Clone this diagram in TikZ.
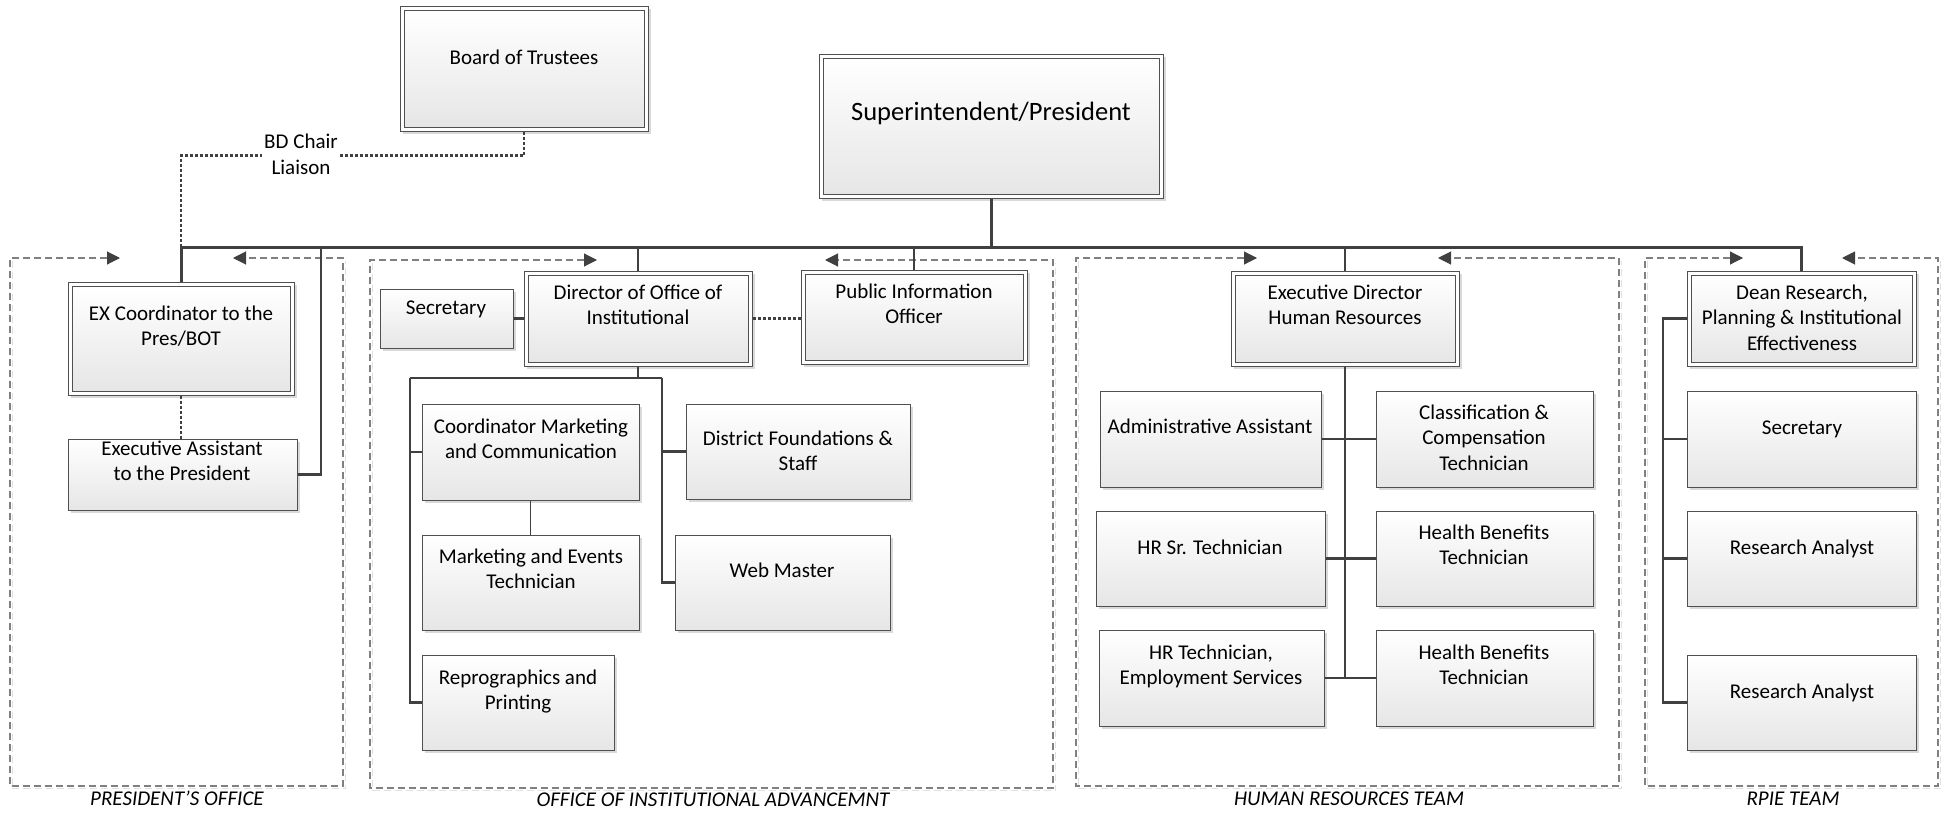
\documentclass[tikz,border=0pt]{standalone}
\usepackage{fontspec}
\setmainfont{Carlito}
\usetikzlibrary{arrows.meta,shadows,fit}
\definecolor{ln}{HTML}{404040}
\definecolor{bd}{HTML}{505050}
\definecolor{fr}{HTML}{808080}
\definecolor{gbot}{HTML}{E6E6E6}
\tikzset{
  box/.style={draw=bd, line width=1pt, top color=white, bottom color=gbot, inner sep=0pt,
    drop shadow={shadow xshift=3pt, shadow yshift=-3pt, opacity=0.15, fill=black}},
  mbox/.style={draw=bd, line width=1pt, fill=white, inner sep=0pt,
    drop shadow={shadow xshift=3pt, shadow yshift=-3pt, opacity=0.15, fill=black}},
  ibox/.style={draw=bd, line width=1pt, top color=white, bottom color=gbot},
  txt/.style={font=\fontsize{21}{25.6}\selectfont, align=center, inner sep=0pt,
    execute at begin node=\strut, execute at end node=\strut},
  bigtxt/.style={font=\fontsize{26.5}{32}\selectfont, align=center, inner sep=0pt,
    execute at begin node=\strut},
  bus/.style={draw=ln, line width=3pt},
  conn/.style={draw=ln, line width=2.6pt},
  thinconn/.style={draw=ln, line width=1.8pt},
  dotconn/.style={draw=ln, line width=2.2pt, dash pattern=on 3pt off 2pt},
  frame/.style={draw=fr, line width=1.1pt, dash pattern=on 7pt off 4pt,
    {Triangle[length=13pt,width=13pt,color=ln]}-{Triangle[length=13pt,width=13pt,color=ln]}},
  frsh/.style={draw=black!12, line width=1.1pt, dash pattern=on 7pt off 4pt},
  team/.style={font=\fontsize{21}{25.6}\selectfont\itshape, inner sep=0pt, execute at begin node=\strut},
}
\newcommand{\plainbox}[5]{\node[box, fit={(#2,#3)(#4,#5)}] (#1) {};}
\newcommand{\mgrbox}[5]{\node[mbox, fit={(#2,#3)(#4,#5)}] (#1) {};
  \draw[ibox] ([xshift=4.5pt,yshift=-4.5pt]#1.north west) rectangle ([xshift=-4.5pt,yshift=4.5pt]#1.south east);}
\begin{document}
\begin{tikzpicture}[x=1pt,y=-1pt]
\useasboundingbox[fill=white] (0,0) rectangle (1947,814);

% team frames (shadow lines first)
\begin{scope}[shift={(2.5,2.5)}]
\draw[frsh] (10,258) -- (10,786) -- (343,786) -- (343,258);
\draw[frsh] (370,260) -- (370,788) -- (1053,788) -- (1053,260);
\draw[frsh] (1076,258) -- (1076,786) -- (1619,786) -- (1619,258);
\draw[frsh] (1645,258) -- (1645,786) -- (1938,786) -- (1938,258);
\end{scope}
\draw[frame] (120,258) -- (10,258) -- (10,786) -- (343,786) -- (343,258) -- (233,258);
\draw[frame] (597,260) -- (370,260) -- (370,788) -- (1053,788) -- (1053,260) -- (825,260);
\draw[frame] (1257,258) -- (1076,258) -- (1076,786) -- (1619,786) -- (1619,258) -- (1438,258);
\draw[frame] (1743,258) -- (1645,258) -- (1645,786) -- (1938,786) -- (1938,258) -- (1842,258);

\node[team] (lPO) at (177,800) {PRESIDENT’S OFFICE};
\node[team] (lOIA) at (713,801) {OFFICE OF INSTITUTIONAL ADVANCEMNT};
\node[team] (lHR) at (1349,800) {HUMAN RESOURCES TEAM};
\node[team] (lRP) at (1793,800) {RPIE TEAM};

% boxes
\mgrbox{BoT}{400}{6}{648}{131}
\mgrbox{Supt}{819}{54}{1163}{198}
\mgrbox{EXC}{68}{282}{294}{395}
\plainbox{EA}{68}{439}{297}{510}
\plainbox{SecO}{380}{289}{513}{348}
\mgrbox{Dir}{524}{271}{752}{366}
\mgrbox{PIO}{801}{270}{1027}{364}
\plainbox{CM}{422}{404}{639}{500}
\plainbox{ME}{422}{535}{639}{630}
\plainbox{Repro}{422}{655}{614}{750}
\plainbox{DF}{686}{404}{910}{499}
\plainbox{WM}{675}{535}{890}{630}
\mgrbox{HRD}{1231}{271}{1459}{366}
\plainbox{Admin}{1100}{391}{1321}{487}
\plainbox{Class}{1376}{391}{1593}{487}
\plainbox{HRSr}{1096}{511}{1325}{606}
\plainbox{HBa}{1376}{511}{1593}{606}
\plainbox{HRT}{1099}{630}{1324}{726}
\plainbox{HBb}{1376}{630}{1593}{726}
\mgrbox{Dean}{1687}{271}{1916}{366}
\plainbox{SecR}{1687}{391}{1916}{487}
\plainbox{RAa}{1687}{511}{1916}{606}
\plainbox{RAb}{1687}{655}{1916}{750}

% connectors
\coordinate (busL) at (181,247);
\coordinate (busR) at (1801.5,247);
\coordinate (eaTop) at (321,247);
\coordinate (oiaL) at (410,378);
\coordinate (oiaR) at (662,378);
\coordinate (rpL) at (1663,318.5);

\draw[dotconn] (BoT.south) -- ++(0,24) -| (EXC.north);
\node[txt, fill=white, inner xsep=2pt] (bdl) at (301,158) {BD Chair\\Liaison};

\draw[bus] (EXC.north) -- (busL) -- (busR) -- (Dean.north);
\draw[bus] (Supt.south) -- (Supt.south |- busL);
\draw[conn] (EA.east) -| (eaTop);
\draw[dotconn] (EXC.south) -- (EXC.south |- EA.north);
\draw[conn] (Dir.north) -- (Dir.north |- busL);
\draw[conn] (PIO.north) -- (PIO.north |- busL);
\draw[conn] (HRD.north) -- (HRD.north |- busL);

\draw[conn] (SecO.east) -- (SecO.east -| Dir.west);
\draw[dotconn] (Dir.east) -- (Dir.east -| PIO.west);
\draw[conn] (Dir.south) -- (Dir.south |- oiaL);
\draw[conn] (oiaL) -- (oiaR);
\draw[conn] (oiaL) |- (Repro.west);
\draw[conn] (oiaL |- CM.west) -- (CM.west);
\draw[conn] (oiaR) |- (WM.west);
\draw[conn] (oiaR |- DF.west) -- (DF.west);
\draw[thinconn] (CM.south) -- (CM.south |- ME.north);

\draw[conn] (HRD.south) -- (HRD.south |- HRT.east);
\draw[conn] (Admin.east) -- (Class.west);
\draw[conn] (HRSr.east) -- (HBa.west);
\draw[conn] (HRT.east) -- (HBb.west);

\draw[conn] (Dean.west) -- (rpL) |- (RAb.west);
\draw[conn] (rpL |- SecR.west) -- (SecR.west);
\draw[conn] (rpL |- RAa.west) -- (RAa.west);

% texts
\begin{scope}[shift={(0,2.5)}]
\node[txt] (tBoT) at (524,57) {Board of Trustees};
\node[bigtxt] (tSupt) at (991,112) {Superintendent/President};
\node[txt] (tEXC) at (181,327) {EX Coordinator to the\\Pres/BOT};
\node[txt] (tEA) at (182,462) {Executive Assistant\\to the President};
\node[txt] (tSecO) at (446,307) {Secretary};
\node[txt] (tDir) at (638,306) {Director of Office of\\Institutional};
\node[txt] (tPIO) at (914,305) {Public Information\\Officer};
\node[txt] (tCM) at (531,440) {Coordinator Marketing\\and Communication};
\node[txt] (tME) at (531,570) {Marketing and Events\\Technician};
\node[txt] (tRepro) at (518,691) {Reprographics and\\Printing};
\node[txt] (tDF) at (798,452) {District Foundations \&\\Staff};
\node[txt] (tWM) at (782,570) {Web Master};
\node[txt] (tHRD) at (1345,306) {Executive Director\\Human Resources};
\node[txt] (tAdmin) at (1210,426) {Administrative Assistant};
\node[txt] (tClass) at (1484,439) {Classification \&\\Compensation\\Technician};
\node[txt] (tHRSr) at (1210,547) {HR Sr. Technician};
\node[txt] (tHBa) at (1484,546) {Health Benefits\\Technician};
\node[txt] (tHRT) at (1211,666) {HR Technician,\\Employment Services};
\node[txt] (tHBb) at (1484,666) {Health Benefits\\Technician};
\node[txt] (tDean) at (1802,319) {Dean Research,\\Planning \& Institutional\\Effectiveness};
\node[txt] (tSecR) at (1802,427) {Secretary};
\node[txt] (tRAa) at (1802,547) {Research Analyst};
\node[txt] (tRAb) at (1802,691) {Research Analyst};
\end{scope}
\end{tikzpicture}
\end{document}
